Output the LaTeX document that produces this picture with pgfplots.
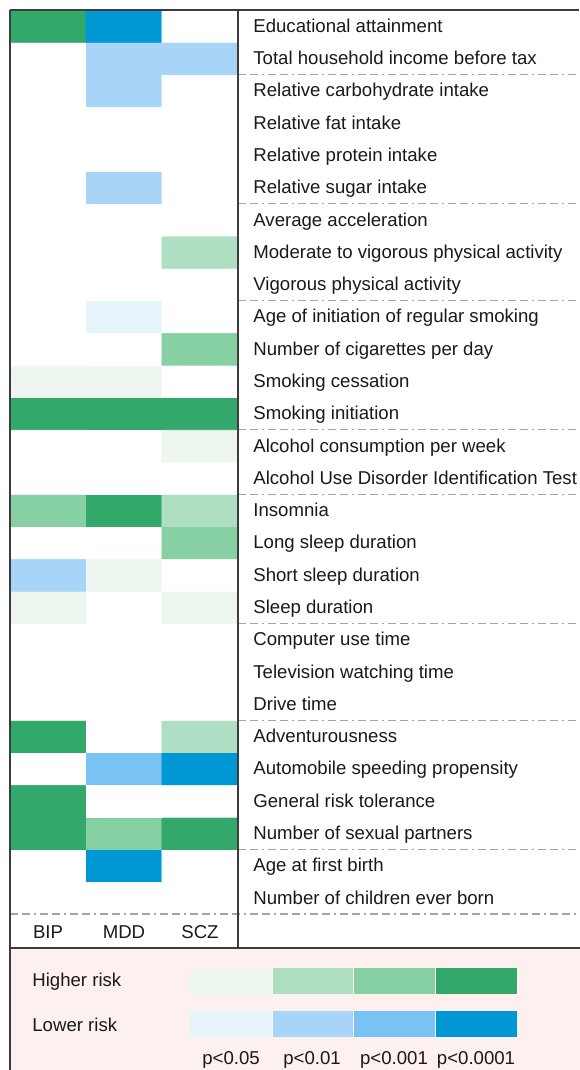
\documentclass[border=0pt]{standalone}
\usepackage{fontspec}
\setmainfont{Liberation Sans}
\usepackage{pgfplots}
\usepackage{pgfplotstable}
\pgfplotsset{compat=1.18}

\definecolor{g1}{RGB}{237,247,239}
\definecolor{g2}{RGB}{175,223,194}
\definecolor{g3}{RGB}{134,208,163}
\definecolor{g4}{RGB}{51,168,107}
\definecolor{b1}{RGB}{232,244,252}
\definecolor{b2}{RGB}{168,212,248}
\definecolor{b3}{RGB}{120,194,244}
\definecolor{b4}{RGB}{0,152,212}
\definecolor{legbg}{RGB}{253,241,239}
\definecolor{framecol}{RGB}{60,60,60}
\definecolor{dashcol}{RGB}{165,165,165}
\definecolor{txt}{RGB}{25,25,25}
\newcommand\lf{\fontsize{9.3}{11}\selectfont}

% c: 0..3 = lower risk (p<0.0001 .. p<0.05), 4 = n.s., 5..8 = higher risk (p<0.05 .. p<0.0001)
\pgfplotstableread{
x y c
0 0 4
1 0 4
2 0 4
0 1 4
1 1 0
2 1 4
0 2 8
1 2 7
2 2 8
0 3 8
1 3 4
2 3 4
0 4 4
1 4 1
2 4 0
0 5 8
1 5 4
2 5 6
0 6 4
1 6 4
2 6 4
0 7 4
1 7 4
2 7 4
0 8 4
1 8 4
2 8 4
0 9 5
1 9 4
2 9 5
0 10 2
1 10 5
2 10 4
0 11 4
1 11 4
2 11 7
0 12 7
1 12 8
2 12 6
0 13 4
1 13 4
2 13 4
0 14 4
1 14 4
2 14 5
0 15 8
1 15 8
2 15 8
0 16 5
1 16 5
2 16 4
0 17 4
1 17 4
2 17 7
0 18 4
1 18 3
2 18 4
0 19 4
1 19 4
2 19 4
0 20 4
1 20 4
2 20 6
0 21 4
1 21 4
2 21 4
0 22 4
1 22 2
2 22 4
0 23 4
1 23 4
2 23 4
0 24 4
1 24 4
2 24 4
0 25 4
1 25 2
2 25 4
0 26 4
1 26 2
2 26 2
0 27 8
1 27 0
2 27 4
}\heat

\begin{document}
\begin{tikzpicture}
\begin{axis}[
  scale only axis, width=114pt, height=452pt,
  xmin=-0.5, xmax=2.5, ymin=-0.5, ymax=27.5,
  axis line style={draw=none},
  major tick length=0pt,
  xtick={0,1,2}, xticklabels={BIP,MDD,SCZ},
  ytick={0,...,27},
  yticklabels={Number of children ever born, Age at first birth, Number of sexual partners, General risk tolerance, Automobile speeding propensity, Adventurousness, Drive time, Television watching time, Computer use time, Sleep duration, Short sleep duration, Long sleep duration, Insomnia, Alcohol Use Disorder Identification Test, Alcohol consumption per week, Smoking initiation, Smoking cessation, Number of cigarettes per day, Age of initiation of regular smoking, Vigorous physical activity, Moderate to vigorous physical activity, Average acceleration, Relative sugar intake, Relative protein intake, Relative fat intake, Relative carbohydrate intake, Total household income before tax, Educational attainment},
  yticklabel pos=right,
  yticklabel style={anchor=base west, inner sep=0pt, xshift=7.5pt, yshift=-3.1pt, font=\lf, text=txt},
  xticklabel style={anchor=base, inner sep=0pt, yshift=-12.5pt, font=\lf, text=txt},
  colormap={hm}{rgb255=(0,152,212) rgb255=(120,194,244) rgb255=(168,212,248) rgb255=(232,244,252) rgb255=(255,255,255) rgb255=(237,247,239) rgb255=(175,223,194) rgb255=(134,208,163) rgb255=(51,168,107)},
  colormap access=direct,
  clip=false,
]
\addplot[matrix plot*, mesh/cols=3, point meta=explicit] table[x=x, y=y, meta=c] {\heat};
\end{axis}
\begin{scope}[shift={(current axis.north west)}, xshift=-5pt, yshift=5pt, x=0.5pt, y=-0.5pt]
  % legend panel
  \fill[legbg] (10,948) rectangle (600,1090);
  \draw[framecol, line width=0.75pt] (600,948) -- (10,948) -- (10,1090);
  \node[anchor=base west, inner sep=0pt, font=\lf, text=txt] at (32,986.5) {Higher risk};
  \node[anchor=base west, inner sep=0pt, font=\lf, text=txt] at (32,1031.5) {Lower risk};
  \fill[g1] (190,968) rectangle (271.5,994);
  \fill[g2] (272.5,968) rectangle (352.5,994);
  \fill[g3] (353.5,968) rectangle (434.5,994);
  \fill[g4] (435.5,968) rectangle (517,994);
  \fill[b1] (190,1011) rectangle (271.5,1037);
  \fill[b2] (272.5,1011) rectangle (352.5,1037);
  \fill[b3] (353.5,1011) rectangle (434.5,1037);
  \fill[b4] (435.5,1011) rectangle (517,1037);
  \node[anchor=base, inner sep=0pt, font=\lf, text=txt] at (231,1064) {p<0.05};
  \node[anchor=base, inner sep=0pt, font=\lf, text=txt] at (312,1064) {p<0.01};
  \node[anchor=base, inner sep=0pt, font=\lf, text=txt] at (394,1064) {p<0.001};
  \node[anchor=base, inner sep=0pt, font=\lf, text=txt] at (476,1064) {p<0.0001};
  % group separators
  \foreach \k in {2,6,9,13,15,19,22,26}
    \draw[dashcol, line width=0.75pt, dash pattern=on 4pt off 2pt on 4pt off 2pt on 1pt off 2pt]
      (238,{10+\k*32.2857}) -- (579,{10+\k*32.2857});
  \draw[dashcol, line width=0.75pt, dash pattern=on 4pt off 2pt on 4pt off 2pt on 1pt off 2pt]
      (10,914) -- (579,914);
  % frame
  \draw[framecol, line width=0.75pt] (10,10) -- (579,10);
  \draw[framecol, line width=0.75pt] (10,10) -- (10,947);
  \draw[framecol, line width=0.75pt] (238,10) -- (238,947);
  \pgfresetboundingbox
  \path[use as bounding box] (0,0) rectangle (579,1070);
\end{scope}
\end{tikzpicture}
\end{document}
